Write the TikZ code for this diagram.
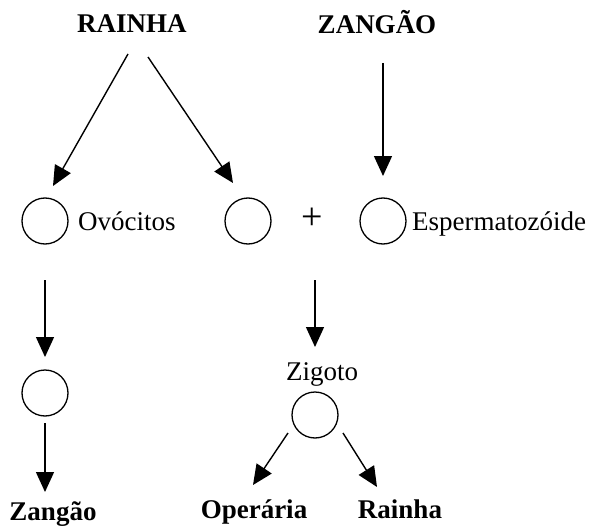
\documentclass[tikz,border=0pt]{standalone}
\usepackage{fontspec}
\setmainfont{Liberation Serif}
\usetikzlibrary{arrows.meta}
\begin{document}
\begin{tikzpicture}[x=1pt,y=-1pt,
  lbl/.style={font=\fontsize{27}{30}\selectfont, inner sep=0pt, anchor=base},
  blbl/.style={font=\bfseries\fontsize{27}{30}\selectfont, inner sep=0pt, anchor=base},
  cell/.style={circle, draw, line width=1.3pt, minimum size=46pt, inner sep=0pt},
  arr/.style={-{Triangle[length=20pt,width=18pt]}, line width=1.4pt}]
\useasboundingbox (0,0) rectangle (592,527);
% top labels
\node[blbl] (rainha) at (132,33) {RAINHA};
\node[blbl] (zangaoT) at (377,34) {ZANGÃO};
% first row
\node[cell] (c1) at (45,221) {};
\node[lbl, anchor=base west] (ovo) at (78,230) {Ovócitos};
\node[cell] (c2) at (248,221) {};
\node[font=\fontsize{38}{40}\selectfont, inner sep=0pt, anchor=center] (plus) at (312,219) {+};
\node[cell] (c3) at (383,221) {};
\node[lbl, anchor=base west] (esp) at (412,230) {Espermatozóide};
% lower
\node[cell] (c4) at (45,393) {};
\node[lbl] (zig) at (322,380) {Zigoto};
\node[cell] (c5) at (315,415) {};
\node[blbl] (zangao) at (53,520) {Zangão};
\node[blbl] (operaria) at (254,518) {Operária};
\node[blbl] (rainhaB) at (400,518) {Rainha};
% arrow end points
\coordinate (a1s) at (128,54);  \coordinate (a1e) at (53,186);
\coordinate (a2s) at (148,57);  \coordinate (a2e) at (233,183);
\coordinate (a3s) at (383,63);  \coordinate (a3e) at (383,176);
\coordinate (a4s) at (45,280);  \coordinate (a4e) at (45,357);
\coordinate (a5s) at (315,280); \coordinate (a5e) at (315,347);
\coordinate (a6s) at (45,423);  \coordinate (a6e) at (45,492);
\coordinate (a7s) at (288,433); \coordinate (a7e) at (253,485);
\coordinate (a8s) at (343,433); \coordinate (a8e) at (377,487);
\draw[arr] (a1s) -- (a1e);
\draw[arr] (a2s) -- (a2e);
\draw[arr] (a3s) -- (a3e);
\draw[arr] (a4s) -- (a4e);
\draw[arr] (a5s) -- (a5e);
\draw[arr] (a6s) -- (a6e);
\draw[arr] (a7s) -- (a7e);
\draw[arr] (a8s) -- (a8e);
\end{tikzpicture}
\end{document}
